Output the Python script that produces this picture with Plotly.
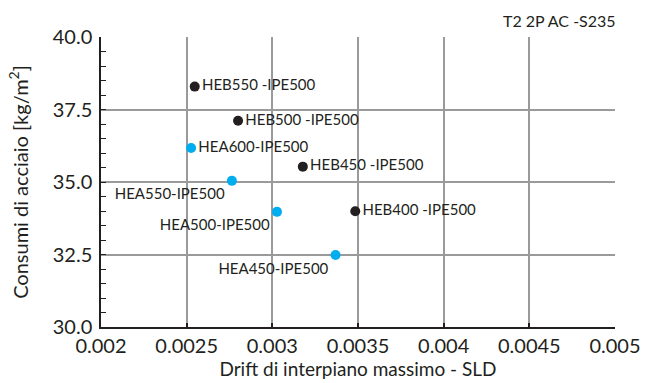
import plotly.graph_objects as go

hea_labels = ["HEA600-IPE500", "HEA550-IPE500", "HEA500-IPE500", "HEA450-IPE500"]
hea_drift = [0.002526, 0.002764, 0.003027, 0.003369]
hea_steel = [36.17, 35.04, 33.97, 32.48]
hea_textpos = ["middle right", "bottom left", "bottom left", "bottom left"]

heb_labels = ["HEB550 -IPE500", "HEB500 -IPE500", "HEB450 -IPE500", "HEB400 -IPE500"]
heb_drift = [0.002547, 0.002800, 0.003178, 0.003484]
heb_steel = [38.29, 37.11, 35.53, 33.99]
heb_textpos = ["middle right"] * 4

x_ticks = [0.002, 0.0025, 0.003, 0.0035, 0.004, 0.0045, 0.005]
x_ticktext = ["0.002", "0.0025", "0.003", "0.0035", "0.004", "0.0045", "0.005"]
y_ticks = [30.0, 32.5, 35.0, 37.5, 40.0]
y_ticktext = ["30.0", "32.5", "35.0", "37.5", "40.0"]

FONT = "Lato"
INK = "#231f20"
fig = go.Figure()
fig.add_trace(go.Scatter(
    x=hea_drift, y=hea_steel, mode="markers+text", text=hea_labels,
    textposition=hea_textpos, marker=dict(color="#00aeef", size=10),
    textfont=dict(family=FONT, size=15, color=INK), cliponaxis=False,
    showlegend=False))
fig.add_trace(go.Scatter(
    x=heb_drift, y=heb_steel, mode="markers+text", text=heb_labels,
    textposition=heb_textpos, marker=dict(color=INK, size=10),
    textfont=dict(family=FONT, size=15, color=INK), cliponaxis=False,
    showlegend=False))

fig.update_layout(
    width=653, height=383,
    margin=dict(l=101, r=31, t=37, b=54),
    paper_bgcolor="white", plot_bgcolor="white",
    font=dict(family=FONT, color=INK),
    xaxis=dict(range=[0.002, 0.005], tickvals=x_ticks, ticktext=x_ticktext,
               showgrid=True, gridcolor="#9a9a9a", gridwidth=1.5,
               showline=True, linecolor=INK, linewidth=1.5,
               ticks="inside", ticklen=4, tickcolor=INK, tickwidth=1.5,
               tickfont=dict(size=20), zeroline=False,
               title=dict(text="Drift di interpiano massimo - SLD", font=dict(size=19), standoff=1)),
    yaxis=dict(range=[30, 40], tickvals=y_ticks, ticktext=y_ticktext,
               showgrid=True, gridcolor="#9a9a9a", gridwidth=1.5,
               showline=True, linecolor=INK, linewidth=1.5,
               ticks="inside", ticklen=5, tickcolor=INK, tickwidth=1.2,
               tickfont=dict(size=20), zeroline=False, ticklabelstandoff=3,
               minor=dict(tickmode="linear", dtick=0.5, ticks="inside", ticklen=5,
                          tickcolor=INK, tickwidth=1.2, showgrid=False),
               title=dict(text="Consumi di acciaio [kg/m<sup>2</sup>]", font=dict(size=20), standoff=19)),
    annotations=[dict(text="T2 2P AC -S235", xref="paper", yref="paper", x=1, y=1,
                      xanchor="right", yanchor="bottom", yshift=5, xshift=3, showarrow=False,
                      font=dict(size=16, family=FONT, color=INK))],
)
fig.write_html("out.html")
